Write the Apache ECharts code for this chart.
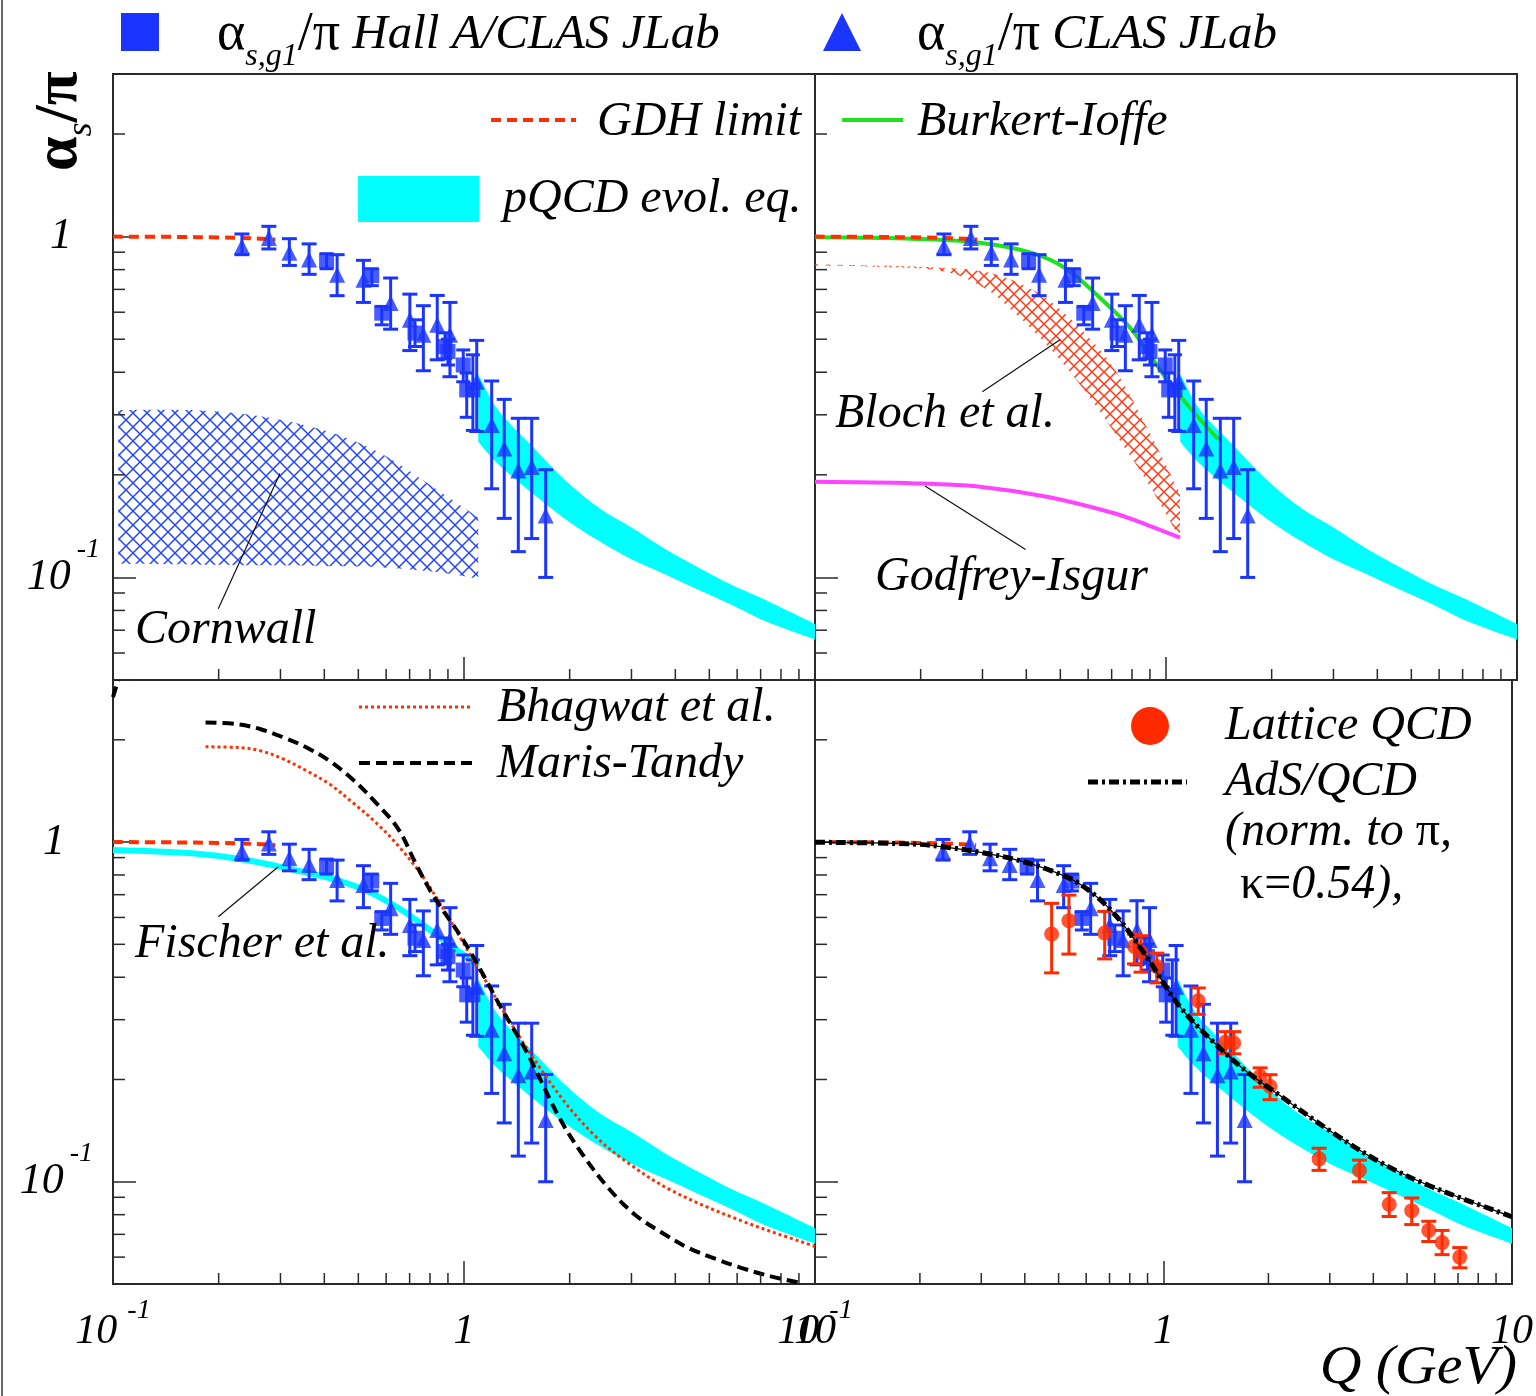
<!DOCTYPE html>
<html>
<head>
<meta charset="utf-8">
<script src="https://cdn.jsdelivr.net/npm/echarts@6/dist/echarts.min.js"></script>
<style>
html,body{margin:0;padding:0;background:#fff;}
#chart{width:1536px;height:1396px;}
</style>
</head>
<body>
<div id="chart"></div>
<script>
// ---------- axis ranges and tick values ----------
const X_MIN = 0.1, X_MAX = 10, Y_MIN = 0.05, Y_MAX = 3.0;
const xMinorTicks = [0.2,0.3,0.4,0.5,0.6,0.7,0.8,0.9,2,3,4,5,6,7,8,9];
const yMinorTicks = [0.06,0.07,0.08,0.09,0.2,0.3,0.4,0.5,0.6,0.7,0.8,0.9,2,3];

// ---------- JLab data: alpha_s,g1 / pi ----------
const qHallA  = [0.406,0.546,0.583,0.725,0.883,0.900,0.995,1.018,1.060];
const aHallA  = [0.850,0.768,0.596,0.521,0.476,0.460,0.420,0.355,0.355];
const loHallA = [0.805,0.718,0.551,0.476,0.438,0.420,0.375,0.295,0.270];
const hiHallA = [0.891,0.805,0.624,0.570,0.522,0.500,0.465,0.398,0.450];

const qCLAS  = [0.233,0.278,0.318,0.362,0.435,0.517,0.618,0.701,0.766,0.839,0.912,1.087,1.199,1.302,1.428,1.559,1.709];
const aCLAS  = [0.936,0.991,0.896,0.856,0.773,0.747,0.638,0.570,0.515,0.551,0.515,0.375,0.280,0.239,0.206,0.211,0.152];
const loCLAS = [0.885,0.920,0.823,0.775,0.671,0.641,0.535,0.463,0.404,0.435,0.388,0.268,0.182,0.149,0.119,0.130,0.100];
const hiCLAS = [1.018,1.072,0.986,0.952,0.885,0.852,0.756,0.678,0.627,0.672,0.641,0.496,0.377,0.333,0.293,0.293,0.207];

// ---------- Lattice QCD ----------
const qLat  = [0.4775,0.5354,0.678,0.825,0.862,0.957,1.258,1.505,1.590,1.893,2.021,2.795,3.649,4.443,5.156,5.77,6.30,7.08];
const aLat  = [0.536,0.587,0.540,0.493,0.474,0.430,0.341,0.2573,0.2561,0.2045,0.191,0.1168,0.108,0.0858,0.0822,0.0719,0.0662,0.0600];
const loLat = [0.412,0.468,0.453,0.438,0.414,0.385,0.311,0.238,0.238,0.1897,0.1744,0.108,0.100,0.0790,0.0748,0.0667,0.0610,0.0558];
const hiLat = [0.660,0.698,0.625,0.536,0.530,0.471,0.372,0.2766,0.2766,0.2164,0.2066,0.1255,0.1158,0.0929,0.0896,0.0765,0.0719,0.0640];

// ---------- pQCD evolution band ----------
const qBand  = [1.098,1.25,1.55,1.95,2.42,3.0,3.75,4.65,5.8,7.2,9.9,10];
const hiBand = [0.395,0.31,0.245,0.192,0.160,0.140,0.121,0.107,0.095,0.086,0.0734,0.0731];
const loBand = [0.250,0.215,0.178,0.148,0.128,0.113,0.102,0.092,0.083,0.0745,0.066,0.0658];

// ---------- GDH limit ----------
const qGDH = [0.1,0.15,0.2,0.25,0.29];
const aGDH = [1.0,0.998,0.994,0.988,0.980];

// ---------- Cornwall band ----------
const qCornwall  = [0.1035,0.177,0.274,0.424,0.589,0.818,1.098];
const hiCornwall = [0.310,0.309,0.295,0.265,0.229,0.184,0.150];
const loCornwall = [0.1097,0.109,0.1085,0.1078,0.1070,0.104,0.0991];

// ---------- Bloch et al. band ----------
const qBloch  = [0.1,0.215,0.2985,0.371,0.462,0.575,0.716,0.890,1.096];
const hiBloch = [0.829,0.813,0.791,0.739,0.653,0.533,0.406,0.2706,0.1763];
const loBloch = [0.823,0.801,0.714,0.597,0.476,0.363,0.2646,0.1887,0.130];

// ---------- Godfrey-Isgur ----------
const qGI = [0.1,0.1927,0.2985,0.462,0.716,0.890,1.096];
const aGI = [0.1907,0.1887,0.1843,0.1722,0.154,0.1422,0.1308];

// ---------- Burkert-Ioffe ----------
const qBI = [0.1,0.193,0.2985,0.4144,0.5157,0.6415,0.7986,0.9935,1.184,1.409];
const aBI = [0.995,0.9845,0.958,0.896,0.809,0.668,0.533,0.388,0.310,0.2543];

// ---------- Fischer et al. ----------
const qFischer = [0.1,0.177,0.2456,0.3125,0.424,0.528,0.657,0.818,0.974,1.098];
const aFischer = [0.947,0.922,0.881,0.837,0.778,0.719,0.635,0.542,0.474,0.433];

// ---------- Maris-Tandy ----------
const qMT = [0.1835,0.2266,0.2635,0.3064,0.356,0.414,0.481,0.560,0.650,0.7336,0.818,1.018,1.266,1.509,1.877,2.169,2.589,3.07,3.665,4.35,5.19,6.16,7.35,9.0];
const aMT = [2.249,2.223,2.149,2.032,1.899,1.734,1.532,1.309,1.092,0.852,0.695,0.4955,0.330,0.2407,0.1532,0.1209,0.0954,0.0800,0.0708,0.0639,0.0594,0.0558,0.0529,0.0505];
const qMTedge = [0.1,0.1035];
const aMTedge = [2.67,3.0];

// ---------- Bhagwat et al. ----------
const qBhagwat = [0.1835,0.2266,0.2635,0.3064,0.356,0.414,0.481,0.560,0.650,0.783,1.087,1.413,1.877,2.33,2.875,3.914,6.16,9.87,10];
const aBhagwat = [1.907,1.899,1.856,1.754,1.621,1.481,1.309,1.143,0.975,0.761,0.433,0.275,0.179,0.1384,0.1153,0.0941,0.0768,0.0648,0.0646];

// ---------- AdS/QCD ----------
const qAdS = [0.1,0.1927,0.2398,0.2985,0.371,0.462,0.575,0.716,0.890,1.108,1.379,1.716,2.159,2.996,4.16,5.77,9.94,10];
const aAdS = [0.999,0.9866,0.9647,0.9327,0.891,0.833,0.7526,0.621,0.463,0.330,0.260,0.2126,0.1793,0.1415,0.1145,0.0975,0.0790,0.0789];

// ---------- leader lines from labels to curves ----------
const qLeadCornwall = [0.1995,0.299], aLeadCornwall = [0.0809,0.2018];
const qLeadBloch    = [0.2997,0.499], aLeadBloch    = [0.3508,0.498];
const qLeadGI       = [0.2058,0.398], aLeadGI       = [0.1854,0.1207];
const qLeadFischer  = [0.1995,0.2958], aLeadFischer = [0.603,0.846];

// ---------- styling ----------
const SERIF = '"Liberation Serif","Times New Roman",serif';
const BLUE = '#1a35ff';
const LATRED = '#ff2a00';
const GDHRED = '#ff3000';
const CYAN = '#00ffff';
const GREEN = '#1ee21e';
const MAGENTA = '#ff44ff';
const FRAME = '#2a2a2a';

const panels = [
  {left:113, top:74,  width:702, height:606},
  {left:815, top:74,  width:702, height:606},
  {left:113, top:680, width:702, height:604},
  {left:815, top:680, width:702, height:604}
];

function pts(qs, as) { return qs.map((q, i) => [q, as[i]]); }
function pts4(qs, as, lo, hi) { return qs.map((q, i) => [q, as[i], lo[i], hi[i]]); }

function hatch(color, size, width) {
  const c = document.createElement('canvas');
  c.width = size; c.height = size;
  const g = c.getContext('2d');
  g.strokeStyle = color; g.lineWidth = width;
  g.beginPath();
  g.moveTo(0, 0); g.lineTo(size, size);
  g.moveTo(size, 0); g.lineTo(0, size);
  g.stroke();
  return {image: c, repeat: 'repeat'};
}

// Catmull-Rom segments through pixel points, as SVG path commands
function splineCmds(p, start) {
  let d = (start ? 'M' : 'L') + p[0][0] + ' ' + p[0][1];
  for (let i = 0; i < p.length - 1; i++) {
    const p0 = p[i - 1] || p[i], p1 = p[i], p2 = p[i + 1], p3 = p[i + 2] || p[i + 1];
    const c1 = [p1[0] + (p2[0] - p0[0]) / 6, p1[1] + (p2[1] - p0[1]) / 6];
    const c2 = [p2[0] - (p3[0] - p1[0]) / 6, p2[1] - (p3[1] - p1[1]) / 6];
    d += 'C' + c1[0] + ' ' + c1[1] + ' ' + c2[0] + ' ' + c2[1] + ' ' + p2[0] + ' ' + p2[1];
  }
  return d;
}

function errRender(capW, color) {
  return function (params, api) {
    const q = api.value(0);
    const pLo = api.coord([q, api.value(2)]);
    const pHi = api.coord([q, api.value(3)]);
    const x = pLo[0];
    const st = {stroke: color, lineWidth: 3};
    return {type: 'group', children: [
      {type: 'line', shape: {x1: x, y1: pLo[1], x2: x, y2: pHi[1]}, style: st},
      {type: 'line', shape: {x1: x - capW / 2, y1: pLo[1], x2: x + capW / 2, y2: pLo[1]}, style: st},
      {type: 'line', shape: {x1: x - capW / 2, y1: pHi[1], x2: x + capW / 2, y2: pHi[1]}, style: st}
    ]};
  };
}

function bandSeries(gi, qs, lo, hi, fill, z) {
  return {
    type: 'custom', xAxisIndex: gi, yAxisIndex: gi, silent: true, z: z,
    data: qs.map((q, i) => [q, lo[i], hi[i]]),
    renderItem: function (params, api) {
      if (params.dataIndex !== 0) return null;
      const top = qs.map((q, i) => api.coord([q, hi[i]]));
      const bot = qs.map((q, i) => api.coord([q, lo[i]])).reverse();
      const d = splineCmds(top, true) + splineCmds(bot, false) + 'Z';
      return {type: 'path', shape: {pathData: d}, style: {fill: fill, stroke: null}};
    }
  };
}

function curve(gi, name, qs, as, color, width, type, z, smooth) {
  return {
    type: 'line', name: name, xAxisIndex: gi, yAxisIndex: gi, silent: true,
    data: pts(qs, as), showSymbol: false, symbol: 'none',
    smooth: smooth === undefined ? 0.35 : smooth,
    lineStyle: {color: color, width: width, type: type || 'solid'}, z: z || 3
  };
}

function tickSeries(gi) {
  const data = xMinorTicks.map(v => [v, Y_MIN, 0]).concat(yMinorTicks.map(v => [X_MIN, v, 1]));
  return {
    type: 'custom', xAxisIndex: gi, yAxisIndex: gi, silent: true, z: 8, data: data,
    renderItem: function (params, api) {
      const p = api.coord([api.value(0), api.value(1)]);
      const st = {stroke: FRAME, lineWidth: 1.5};
      if (api.value(2) === 0) return {type: 'line', shape: {x1: p[0], y1: p[1], x2: p[0], y2: p[1] - 11}, style: st};
      return {type: 'line', shape: {x1: p[0], y1: p[1], x2: p[0] + 12, y2: p[1]}, style: st};
    }
  };
}

function dataSeries(gi) {
  return [
    {type: 'custom', xAxisIndex: gi, yAxisIndex: gi, silent: true, z: 5,
     renderItem: errRender(14, BLUE), data: pts4(qHallA, aHallA, loHallA, hiHallA)},
    {type: 'custom', xAxisIndex: gi, yAxisIndex: gi, silent: true, z: 5,
     renderItem: errRender(15, BLUE), data: pts4(qCLAS, aCLAS, loCLAS, hiCLAS)},
    {type: 'scatter', name: 'Hall A/CLAS JLab', xAxisIndex: gi, yAxisIndex: gi, silent: true, z: 6,
     symbol: 'rect', symbolSize: 15, itemStyle: {color: BLUE}, data: pts(qHallA, aHallA)},
    {type: 'scatter', name: 'CLAS JLab', xAxisIndex: gi, yAxisIndex: gi, silent: true, z: 6,
     symbol: 'triangle', symbolSize: [16, 16], itemStyle: {color: BLUE}, data: pts(qCLAS, aCLAS)}
  ];
}

function leader(gi, qs, as) {
  return curve(gi, 'leader', qs, as, '#111', 1.2, 'solid', 7, false);
}

const near = (v, t) => Math.abs(v - t) < t * 1e-4;

const xAxes = panels.map((p, i) => ({
  type: 'log', logBase: 10, gridIndex: i, min: X_MIN, max: X_MAX,
  axisLine: {show: false}, splitLine: {show: false},
  axisTick: {show: true, inside: true, length: 23, lineStyle: {color: FRAME, width: 1.5}},
  axisLabel: {
    show: i >= 2, margin: 13,
    formatter: v => near(v, 0.1) ? '{n|10}{s|-1}' : near(v, 1) ? '{n|1}' : near(v, 10) ? '{n|10}' : '',
    rich: {
      n: {fontFamily: SERIF, fontStyle: 'italic', fontSize: 42, lineHeight: 70, color: '#000'},
      s: {fontFamily: SERIF, fontStyle: 'italic', fontSize: 28, lineHeight: 28, verticalAlign: 'top', padding: [0, 0, 0, 10], color: '#000'}
    }
  }
}));

const yAxes = panels.map((p, i) => ({
  type: 'log', logBase: 10, gridIndex: i, min: Y_MIN, max: Y_MAX,
  axisLine: {show: false}, splitLine: {show: false},
  axisTick: {show: true, inside: true, length: 23, lineStyle: {color: FRAME, width: 1.5}},
  axisLabel: {
    show: i === 0 || i === 2, margin: i === 0 ? 13 : 20,
    formatter: v => near(v, 1) ? '{n|1}{g|}' : near(v, 0.1) ? '{n|10}{s|-1}' : '',
    rich: {
      n: {fontFamily: SERIF, fontStyle: 'italic', fontSize: 44, lineHeight: 84, color: '#000'},
      s: {fontFamily: SERIF, fontStyle: 'italic', fontSize: 28, lineHeight: 28, verticalAlign: 'top', padding: [0, 0, 0, 6], color: '#000'},
      g: {width: 28}
    }
  }
}));

const blueHatch = hatch('#2445ff', 14, 1.5);
const redHatch = hatch('#ff3a14', 12, 1.5);

let series = [];
for (let i = 0; i < 4; i++) series.push(tickSeries(i));

// top-left: Cornwall
series.push(bandSeries(0, qCornwall, loCornwall, hiCornwall, blueHatch, 1));
series.push(bandSeries(0, qBand, loBand, hiBand, CYAN, 1));
series.push(curve(0, 'GDH limit', qGDH, aGDH, GDHRED, 4, [10, 6], 4));
series.push(leader(0, qLeadCornwall, aLeadCornwall));
series = series.concat(dataSeries(0));

// top-right: Bloch, Godfrey-Isgur, Burkert-Ioffe
series.push(bandSeries(1, qBloch, loBloch, hiBloch, redHatch, 1));
series.push(bandSeries(1, qBand, loBand, hiBand, CYAN, 1));
series.push(curve(1, 'Burkert-Ioffe', qBI, aBI, GREEN, 4, 'solid', 3));
series.push(curve(1, 'GDH limit', qGDH, aGDH, GDHRED, 4, [10, 6], 4));
series.push(curve(1, 'Godfrey-Isgur', qGI, aGI, MAGENTA, 4, 'solid', 3));
series.push(leader(1, qLeadBloch, aLeadBloch));
series.push(leader(1, qLeadGI, aLeadGI));
series = series.concat(dataSeries(1));

// bottom-left: Fischer, Bhagwat, Maris-Tandy
series.push(bandSeries(2, qBand, loBand, hiBand, CYAN, 1));
series.push(curve(2, 'Fischer et al.', qFischer, aFischer, CYAN, 6, 'solid', 3));
series.push(curve(2, 'GDH limit', qGDH, aGDH, GDHRED, 4, [10, 6], 4));
series.push(leader(2, qLeadFischer, aLeadFischer));
series = series.concat(dataSeries(2));
series.push(curve(2, 'Bhagwat et al.', qBhagwat, aBhagwat, GDHRED, 3, [3, 3], 7));
series.push(curve(2, 'Maris-Tandy', qMT, aMT, '#000', 4, [11, 6], 7));
series.push(curve(2, 'Maris-Tandy', qMTedge, aMTedge, '#000', 4, [11, 6], 7, false));

// bottom-right: Lattice QCD, AdS/QCD
series.push(bandSeries(3, qBand, loBand, hiBand, CYAN, 1));
series.push(curve(3, 'GDH limit', qGDH, aGDH, GDHRED, 4, [10, 6], 4));
series = series.concat(dataSeries(3));
series.push({type: 'custom', xAxisIndex: 3, yAxisIndex: 3, silent: true, z: 7,
  renderItem: errRender(15, LATRED), data: pts4(qLat, aLat, loLat, hiLat)});
series.push({type: 'scatter', name: 'Lattice QCD', xAxisIndex: 3, yAxisIndex: 3, silent: true, z: 7,
  symbol: 'circle', symbolSize: 15, itemStyle: {color: LATRED}, data: pts(qLat, aLat)});
series.push(curve(3, 'AdS/QCD', qAdS, aAdS, '#000', 1.2, 'solid', 8));
series.push(curve(3, 'AdS/QCD', qAdS, aAdS, '#000', 5, [10, 4, 3, 4], 8));

// ---------- legends and labels ----------
function txt(x, y, text, opts) {
  opts = opts || {};
  return {
    type: 'text', x: x, y: y, z: 20, scaleX: opts.scaleX || 1, rotation: opts.rotation || 0,
    style: {
      text: text, fill: '#000', fontFamily: SERIF, fontStyle: opts.upright ? 'normal' : 'italic',
      fontWeight: opts.bold ? 'bold' : 'normal',
      fontSize: opts.size || 48, align: opts.align || 'left', verticalAlign: 'middle',
      rich: opts.rich
    }
  };
}

// text pieces laid end to end (sub/superscripts get a vertical offset)
const measureCtx = document.createElement('canvas').getContext('2d');
function textWidth(t, size, italic, bold) {
  measureCtx.font = (italic ? 'italic ' : 'normal ') + (bold ? 'bold ' : 'normal ') + size + 'px ' + SERIF;
  return measureCtx.measureText(t).width;
}
function run(x, y, parts, rotated) {
  const els = [];
  let s = 0;
  parts.forEach(p => {
    const off = p.dy || 0;
    els.push(txt(rotated ? x + off : x + s, rotated ? y - s : y + off, p.text,
      {size: p.size, upright: !p.italic, bold: p.bold, rotation: rotated ? Math.PI / 2 : 0}));
    s += textWidth(p.text, p.size, p.italic, p.bold) + (p.gap || 0);
  });
  return els;
}

const richMixed = {
  g: {fontFamily: SERIF, fontStyle: 'normal', fontSize: 48},
  t: {fontFamily: SERIF, fontStyle: 'italic', fontSize: 48}
};

let graphics = [
  {type: 'line', shape: {x1: 2, y1: 0, x2: 2, y2: 1396}, style: {stroke: '#666', lineWidth: 2}, z: 20},
  // top legend keys
  {type: 'rect', shape: {x: 121, y: 13, width: 38, height: 38}, style: {fill: BLUE}, z: 20},
  {type: 'polygon', shape: {points: [[842, 13], [823, 51], [861, 51]]}, style: {fill: BLUE}, z: 20},
  // top-left legend
  {type: 'line', shape: {x1: 491, y1: 120, x2: 576, y2: 120}, style: {stroke: GDHRED, lineWidth: 4, lineDash: [10, 6]}, z: 20},
  txt(597, 122, 'GDH limit'),
  {type: 'rect', shape: {x: 358, y: 176, width: 121, height: 46}, style: {fill: CYAN}, z: 20},
  txt(503, 199, 'pQCD evol. eq.'),
  txt(135, 630, 'Cornwall'),
  // top-right
  {type: 'line', shape: {x1: 842, y1: 120, x2: 903, y2: 120}, style: {stroke: GREEN, lineWidth: 4}, z: 20},
  txt(917, 122, 'Burkert-Ioffe'),
  txt(835, 414, 'Bloch et al.'),
  txt(875, 577, 'Godfrey-Isgur'),
  // bottom-left
  {type: 'line', shape: {x1: 359, y1: 707, x2: 472, y2: 707}, style: {stroke: GDHRED, lineWidth: 3, lineDash: [3, 3]}, z: 20},
  txt(497, 708, 'Bhagwat et al.'),
  {type: 'line', shape: {x1: 359, y1: 763, x2: 477, y2: 763}, style: {stroke: '#000', lineWidth: 4, lineDash: [11, 6]}, z: 20},
  txt(497, 764, 'Maris-Tandy'),
  txt(135, 944, 'Fischer et al.'),
  // bottom-right
  {type: 'circle', shape: {cx: 1150, cy: 726, r: 19}, style: {fill: LATRED}, z: 20},
  txt(1225, 726, 'Lattice QCD'),
  {type: 'line', shape: {x1: 1088, y1: 782, x2: 1187, y2: 782}, style: {stroke: '#000', lineWidth: 5, lineDash: [10, 4, 3, 4]}, z: 20},
  txt(1225, 782, 'AdS/QCD'),
  txt(1225, 832, '{t|(norm. to }{g|π},', {rich: richMixed}),
  txt(1240, 885, '{g|κ=}{t|0.54),}', {rich: richMixed}),
  // x axis title
  txt(1517, 1369, 'Q (GeV)', {align: 'right', size: 54, scaleX: 1.07})
];

// top legend texts: alpha_{s,g1}/pi ...
graphics = graphics.concat(run(217, 35, [
  {text: 'α', size: 54},
  {text: 's,g1', size: 32, italic: true, dy: 22},
  {text: '/π', size: 54},
  {text: ' Hall A/CLAS JLab', size: 49, italic: true}
]));
graphics = graphics.concat(run(917, 35, [
  {text: 'α', size: 54},
  {text: 's,g1', size: 32, italic: true, dy: 22},
  {text: '/π', size: 54},
  {text: ' CLAS JLab', size: 49, italic: true}
]));
// y axis title: alpha_s / pi, reading upwards
graphics = graphics.concat(run(60, 171, [
  {text: 'α', size: 62, bold: true},
  {text: 's', size: 36, italic: true, dy: 22},
  {text: '/π', size: 62, bold: true}
], true));

const chart = echarts.init(document.getElementById('chart'), null, {renderer: 'canvas'});
chart.setOption({
  animation: false,
  backgroundColor: '#fff',
  grid: panels.map(p => Object.assign({show: true, borderColor: FRAME, borderWidth: 2, backgroundColor: 'transparent', containLabel: false}, p)),
  xAxis: xAxes,
  yAxis: yAxes,
  series: series,
  graphic: graphics
});
</script>
</body>
</html>
